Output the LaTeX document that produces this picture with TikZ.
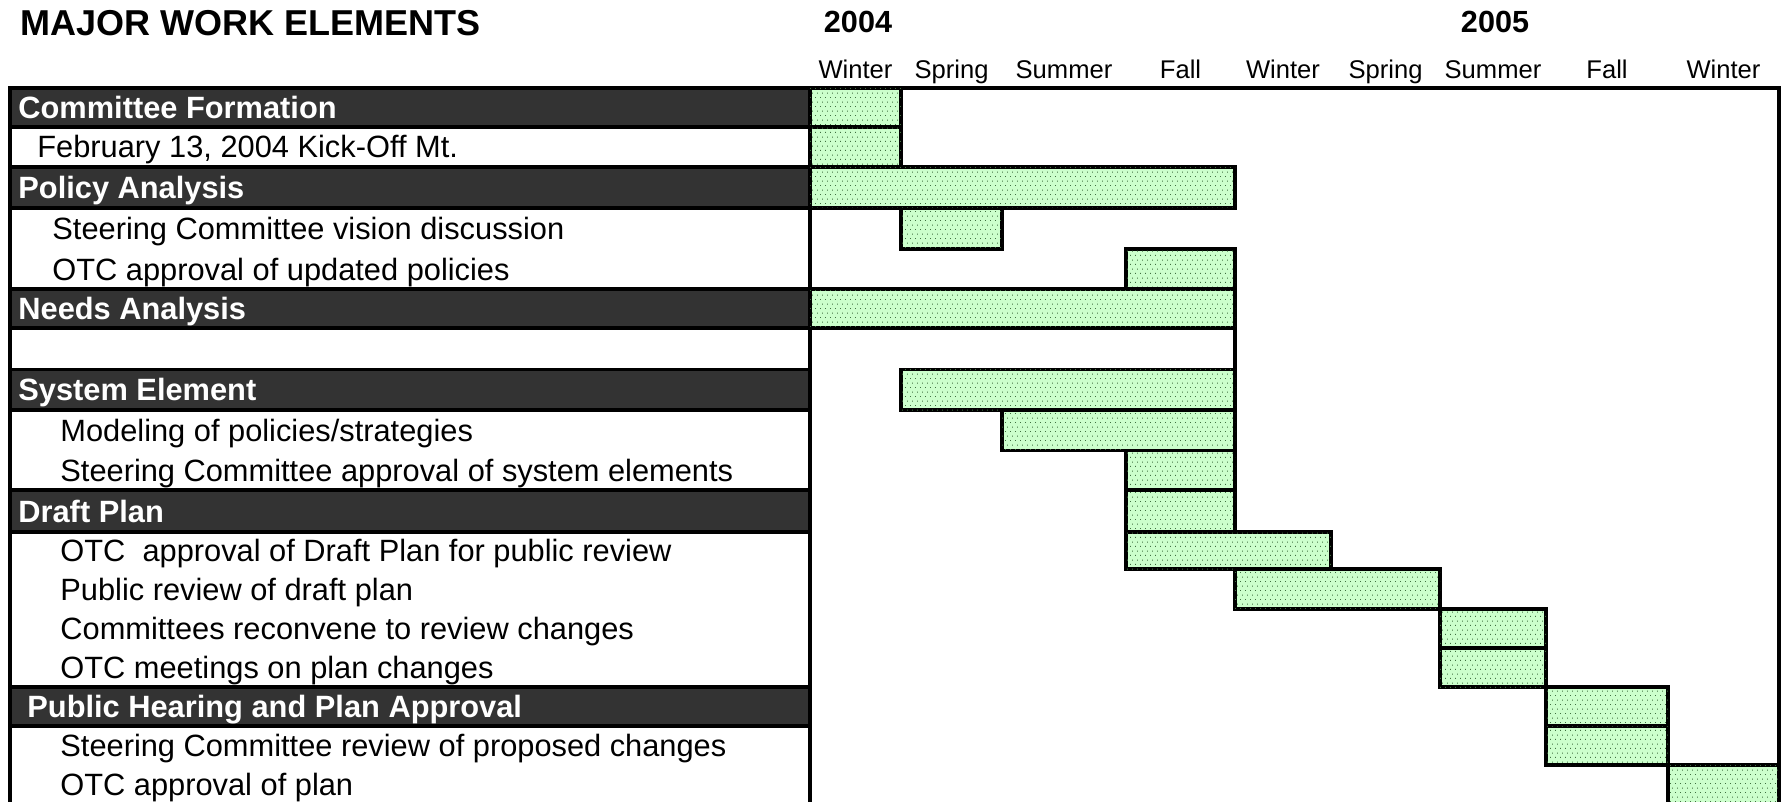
\documentclass[tikz,border=0pt]{standalone}
\usepackage{fontspec}
\setmainfont{Liberation Sans}
\usetikzlibrary{patterns.meta}
\definecolor{barg}{HTML}{CCFFCC}
\definecolor{dotc}{HTML}{3F6F3F}
\definecolor{band}{HTML}{333333}
\tikzdeclarepattern{
  name=gdots,
  type=uncolored,
  bottom left={(0pt,0pt)},
  top right={(2.5pt,4.4pt)},
  tile size={(2.5pt,4.4pt)},
  code={
    \pgfpathrectangle{\pgfpoint{0pt}{0pt}}{\pgfpoint{0.5pt}{0.5pt}}
    \pgfpathrectangle{\pgfpoint{1.25pt}{2.2pt}}{\pgfpoint{0.5pt}{0.5pt}}
    \pgfusepath{fill}
  }
}
\begin{document}
\begin{tikzpicture}[x=0.5pt,y=-0.5pt,
  frame/.style={draw=black, line width=1.6pt},
  bandrow/.style={fill=band, draw=black, line width=1.6pt},
  bar/.style={draw=black, line width=1.6pt, fill=barg, postaction={pattern=gdots, pattern color=dotc}},
  hdr/.style={anchor=base west, inner sep=0pt, text=white, font=\fontsize{15.4}{18}\selectfont\bfseries},
  item/.style={anchor=base west, inner sep=0pt, font=\fontsize{15.4}{18}\selectfont},
  season/.style={anchor=base, inner sep=0pt, font=\fontsize{12.8}{15}\selectfont},
  year/.style={anchor=base, inner sep=0pt, font=\fontsize{15.3}{18}\selectfont\bfseries},
  ttl/.style={anchor=base west, inner sep=0pt, font=\fontsize{18}{21}\selectfont\bfseries}]
\useasboundingbox (0,0) rectangle (1781,802);
\begin{scope}
\clip (0,0) rectangle (1781,802);
% label column
\draw[frame, fill=white] (10,88) rectangle (810,820);
\filldraw[bandrow] (10,88) rectangle (810,127);
\filldraw[bandrow] (10,167) rectangle (810,208);
\filldraw[bandrow] (10,289) rectangle (810,328);
\filldraw[bandrow] (10,369.5) rectangle (810,410);
\filldraw[bandrow] (10,490) rectangle (810,532);
\filldraw[bandrow] (10,687) rectangle (810,726);
% chart area
\draw[frame] (810,88) rectangle (1779,820);
\draw[frame] (1235,328) -- (1235,369.5);
% bars
\draw[bar] (810,88) rectangle (901,127);
\draw[bar] (810,127) rectangle (901,167);
\draw[bar] (810,167) rectangle (1235,208);
\draw[bar] (901,208) rectangle (1002,249);
\draw[bar] (1126,249) rectangle (1235,289);
\draw[bar] (810,289) rectangle (1235,328);
\draw[bar] (901,369.5) rectangle (1235,410);
\draw[bar] (1002,410) rectangle (1235,450.5);
\draw[bar] (1126,450.5) rectangle (1235,490);
\draw[bar] (1126,490) rectangle (1235,532);
\draw[bar] (1126,532) rectangle (1331,569);
\draw[bar] (1235,569) rectangle (1440,609);
\draw[bar] (1440,609) rectangle (1546,648);
\draw[bar] (1440,648) rectangle (1546,687);
\draw[bar] (1546,687) rectangle (1668,726);
\draw[bar] (1546,726) rectangle (1668,765);
\draw[bar] (1668,765) rectangle (1779,820);
\end{scope}
% headings
\node[ttl] (title) at (20,35.5) {MAJOR WORK ELEMENTS};
\node[year] (y2004) at (858,32.5) {2004};
\node[year] (y2005) at (1495,32.5) {2005};
\node[season] (s1) at (855.5,78.5) {Winter};
\node[season] (s2) at (951.5,78.5) {Spring};
\node[season] (s3) at (1064,78.5) {Summer};
\node[season] (s4) at (1180.5,78.5) {Fall};
\node[season] (s5) at (1283,78.5) {Winter};
\node[season] (s6) at (1385.5,78.5) {Spring};
\node[season] (s7) at (1493,78.5) {Summer};
\node[season] (s8) at (1607,78.5) {Fall};
\node[season] (s9) at (1723.5,78.5) {Winter};
% row labels
\node[hdr] (r0) at (18,118.5) {Committee Formation};
\node[item] (r1) at (37,158) {February 13, 2004 Kick-Off Mt.};
\node[hdr] (r2) at (18,198.5) {Policy Analysis};
\node[item] (r3) at (52,239.5) {Steering Committee vision discussion};
\node[item] (r4) at (52,280) {OTC approval of updated policies};
\node[hdr] (r5) at (18,319.5) {Needs Analysis};
\node[hdr] (r7) at (18,400.75) {System Element};
\node[item] (r8) at (60,441.25) {Modeling of policies/strategies};
\node[item] (r9) at (60,481.25) {Steering Committee approval of system elements};
\node[hdr] (r10) at (18,522) {Draft Plan};
\node[item] (r11) at (60,561.5) {OTC\ \ approval of Draft Plan for public review};
\node[item] (r12) at (60,600) {Public review of draft plan};
\node[item] (r13) at (60,639.5) {Committees reconvene to review changes};
\node[item] (r14) at (60,678.5) {OTC meetings on plan changes};
\node[hdr] (r15) at (27,717.5) {Public Hearing and Plan Approval};
\node[item] (r16) at (60,756.5) {Steering Committee review of proposed changes};
\node[item] (r17) at (60,795.5) {OTC approval of plan};
\end{tikzpicture}
\end{document}
